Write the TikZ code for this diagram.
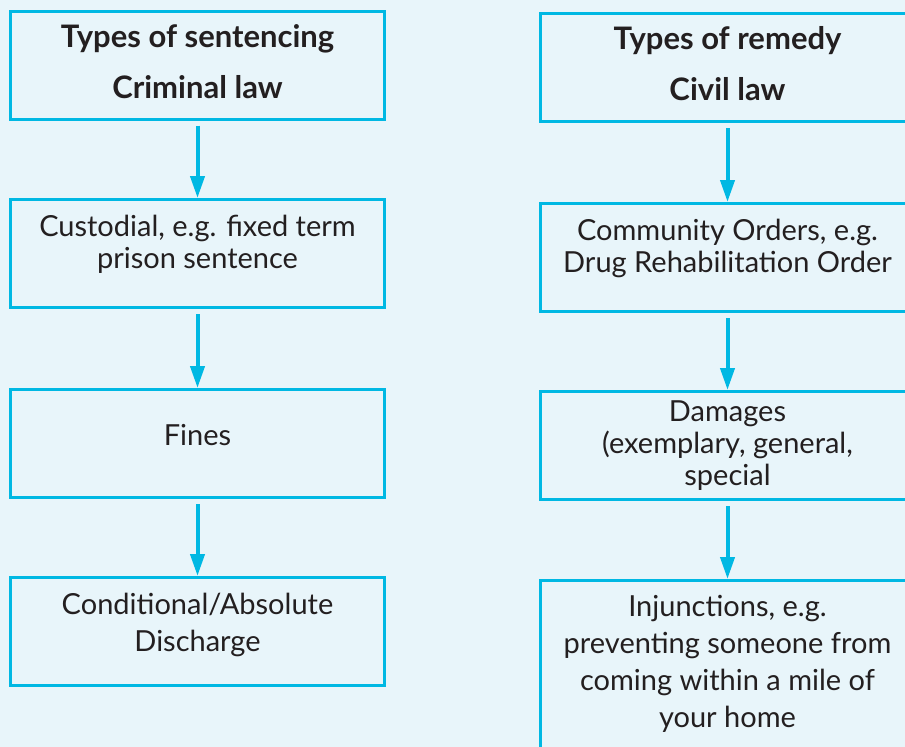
\documentclass[tikz,border=0pt]{standalone}
\usepackage{fontspec}
\setmainfont{Lato}
\usetikzlibrary{arrows.meta}

\definecolor{bgblue}{HTML}{E8F5FA}
\definecolor{edgecyan}{HTML}{00B8E3}
\definecolor{inkgrey}{HTML}{231F20}

\tikzset{
  flowbox/.style={draw=edgecyan, line width=3pt, rectangle, inner sep=0pt,
    minimum width=374pt, minimum height=108pt, anchor=north},
  tallbox/.style={flowbox, minimum height=220pt},
  % text nodes are placed by the baseline of their last line
  boxtext/.style={text=inkgrey, align=center, inner sep=0pt, anchor=base,
    font=\fontsize{29}{32}\selectfont},
  loosetext/.style={boxtext, font=\fontsize{29}{37}\selectfont},
  headtext/.style={boxtext, font=\fontsize{31}{51}\selectfont\bfseries},
  flowarrow/.style={draw=edgecyan, line width=4pt,
    -{Triangle[width=14pt,length=22pt]}, shorten <=5pt}
}

\begin{document}
\begin{tikzpicture}[x=1pt, y=-1pt]
  \useasboundingbox (0,0) rectangle (905,747);
  \clip (0,0) rectangle (905,747);
  \fill[bgblue] (0,0) rectangle (905,747);

  % Criminal law column
  \node[flowbox] (l1) at (197.5,9.5) {};
  \node[flowbox] (l2) at (197.5,198) {};
  \node[flowbox] (l3) at (197.5,388) {};
  \node[flowbox] (l4) at (197.5,576) {};

  \node[headtext] (l1t) at (197.5,98) {Types of sentencing\\Criminal law};
  \node[boxtext] (l2t) at (197.5,268) {Custodial, e.g. fixed term\\prison sentence};
  \node[boxtext] (l3t) at (197.5,445) {Fines};
  \node[loosetext] (l4t) at (197.5,651) {Conditional/Absolute\\Discharge};

  \draw[flowarrow] (l1.south) -- (l2.north);
  \draw[flowarrow] (l2.south) -- (l3.north);
  \draw[flowarrow] (l3.south) -- (l4.north);

  % Civil law column
  \node[flowbox] (r1) at (727.5,12) {};
  \node[flowbox] (r2) at (727.5,202) {};
  \node[flowbox] (r3) at (727.5,390) {};
  \node[tallbox] (r4) at (727.5,579) {};

  \node[headtext] (r1t) at (727.5,100) {Types of remedy\\Civil law};
  \node[boxtext] (r2t) at (727.5,272) {Community Orders, e.g.\\Drug Rehabilitation Order};
  \node[boxtext] (r3t) at (727.5,485) {Damages\\(exemplary, general,\\special};
  \node[loosetext] (r4t) at (727.5,727) {Injunctions, e.g.\\preventing someone from\\coming within a mile of\\your home};

  \draw[flowarrow] (r1.south) -- (r2.north);
  \draw[flowarrow] (r2.south) -- (r3.north);
  \draw[flowarrow] (r3.south) -- (r4.north);
\end{tikzpicture}
\end{document}
